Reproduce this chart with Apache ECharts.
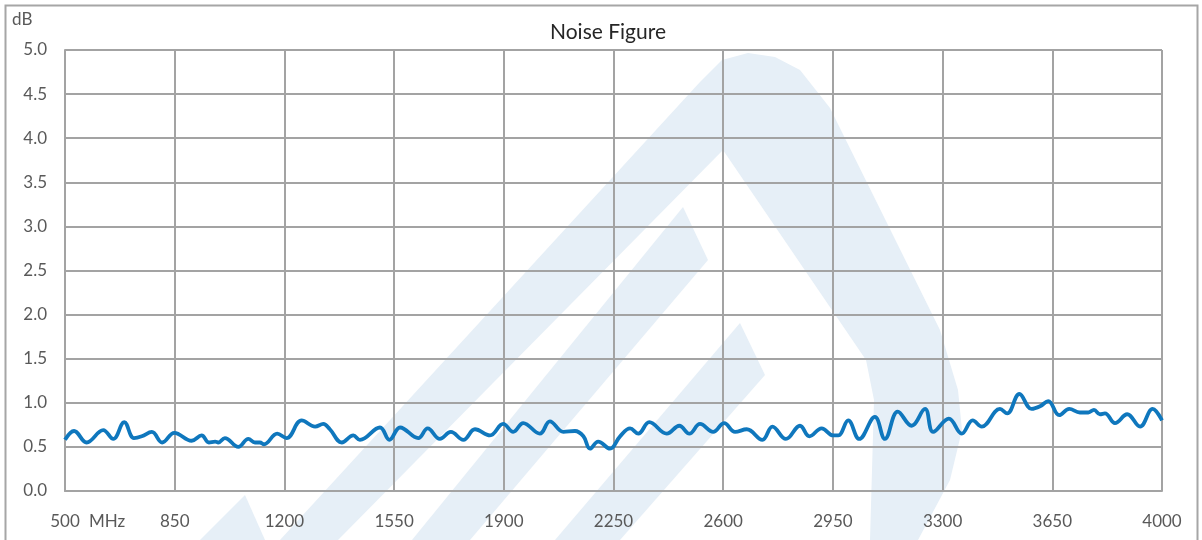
<!DOCTYPE html>
<html>
<head>
<meta charset="utf-8">
<script src="https://cdn.jsdelivr.net/npm/echarts@6/dist/echarts.min.js"></script>
<style>
html,body{margin:0;padding:0;background:#fff;}
#chart{width:1202px;height:540px;}
</style>
</head>
<body>
<div id="chart"></div>
<script>
// Frequency (MHz) and noise figure (dB)
const freqMHz = [500,529,569,622,654,689,720,745,777,810,849,904,936,959,979,989,1010,1053,1085,1106,1122,1135,1177,1207,1255,1298,1324,1345,1383,1420,1441,1505,1535,1569,1627,1657,1696,1731,1771,1808,1856,1898,1930,1962,2015,2047,2090,2127,2154,2175,2201,2239,2271,2303,2329,2364,2420,2460,2492,2526,2568,2603,2638,2675,2725,2757,2800,2845,2875,2914,2951,2967,2999,3034,3084,3116,3157,3201,3244,3270,3320,3361,3396,3425,3483,3506,3545,3584,3611,3637,3672,3704,3738,3765,3783,3802,3818,3850,3889,3930,3970,4000];
const noiseDB = [0.58,0.68,0.55,0.69,0.59,0.78,0.60,0.62,0.67,0.55,0.66,0.57,0.63,0.55,0.56,0.55,0.60,0.50,0.59,0.55,0.55,0.53,0.65,0.60,0.80,0.73,0.76,0.70,0.55,0.63,0.58,0.72,0.58,0.72,0.60,0.71,0.59,0.67,0.58,0.70,0.63,0.76,0.67,0.77,0.65,0.79,0.67,0.68,0.62,0.48,0.56,0.48,0.62,0.71,0.65,0.78,0.65,0.74,0.65,0.76,0.67,0.77,0.67,0.70,0.58,0.73,0.59,0.74,0.62,0.71,0.63,0.63,0.80,0.59,0.84,0.59,0.90,0.74,0.93,0.67,0.82,0.65,0.80,0.73,0.93,0.88,1.10,0.93,0.96,1.02,0.86,0.93,0.89,0.89,0.92,0.87,0.88,0.77,0.87,0.73,0.93,0.80];
const xStart = 500, xEnd = 4000, xStep = 350;
const yTicks = ['0.0','0.5','1.0','1.5','2.0','2.5','3.0','3.5','4.0','4.5','5.0'];
const titleText = 'Noise Figure';
const yUnit = 'dB';
const xUnit = 'MHz';

const FONT = 'Lato, "Open Sans", sans-serif';
const GRID_COLOR = '#a3a3a3';
const WM = '#e6eff7';

const chart = echarts.init(document.getElementById('chart'));
const seriesData = freqMHz.map((f, i) => [f - xStart, noiseDB[i]]);

chart.setOption({
  animation: false,
  backgroundColor: '#fff',
  title: {
    text: titleText, left: 603, top: 17, textAlign: 'center',
    textStyle: { fontFamily: FONT, fontSize: 21, fontWeight: 'normal', color: '#262626' }
  },
  grid: { left: 65, right: 40, top: 50, bottom: 49, containLabel: false },
  xAxis: {
    type: 'value', min: 0, max: xEnd - xStart, interval: xStep,
    axisLine: { show: true, lineStyle: { color: GRID_COLOR, width: 2 } },
    axisTick: { show: false },
    splitLine: { show: true, lineStyle: { color: GRID_COLOR, width: 2 } },
    axisLabel: {
      margin: 22, fontFamily: FONT, fontSize: 17, color: '#595959',
      formatter: v => String(v + xStart)
    }
  },
  yAxis: {
    type: 'value', min: 0, max: 5, interval: 0.5,
    axisLine: { show: true, lineStyle: { color: GRID_COLOR, width: 2 } },
    axisTick: { show: false },
    splitLine: { show: true, lineStyle: { color: GRID_COLOR, width: 2 } },
    axisLabel: {
      margin: 18, fontFamily: FONT, fontSize: 17, color: '#595959',
      formatter: v => yTicks[Math.round(v / 0.5)]
    }
  },
  graphic: [
    // watermark logo (background decoration)
    { type: 'polygon', z: -10, silent: true,
      shape: { points: [[280,540],[700,82],[722,60],[748,53],[775,57],[800,70],[830,108],[940,330],[958,390],[962,430],[950,480],[918,540],[870,540],[874,400],[866,360],[723,150],[338,540]] },
      style: { fill: WM } },
    { type: 'polygon', z: -10, silent: true,
      shape: { points: [[412,540],[683,207],[708,260],[470,540]] },
      style: { fill: WM } },
    { type: 'polygon', z: -10, silent: true,
      shape: { points: [[555,540],[740,323],[765,375],[620,540]] },
      style: { fill: WM } },
    { type: 'polygon', z: -10, silent: true,
      shape: { points: [[200,540],[245,495],[265,540]] },
      style: { fill: WM } },
    // axis unit labels
    { type: 'text', left: 12, top: 11, z: 50,
      style: { text: yUnit, fontFamily: FONT, fontSize: 17, fill: '#595959' } },
    { type: 'text', left: 89, top: 513, z: 50,
      style: { text: xUnit, fontFamily: FONT, fontSize: 17, fill: '#595959' } },
    // chart frame
    { type: 'rect', z: 60, silent: true,
      shape: { x: 5.5, y: 5.5, width: 1192, height: 560 },
      style: { fill: 'none', stroke: '#a6a6a6', lineWidth: 2 } }
  ],
  series: [{
    type: 'line', data: seriesData, smooth: 0.4, showSymbol: false,
    lineStyle: { color: '#0f77bd', width: 3.8 }, z: 5
  }]
});
</script>
</body>
</html>
